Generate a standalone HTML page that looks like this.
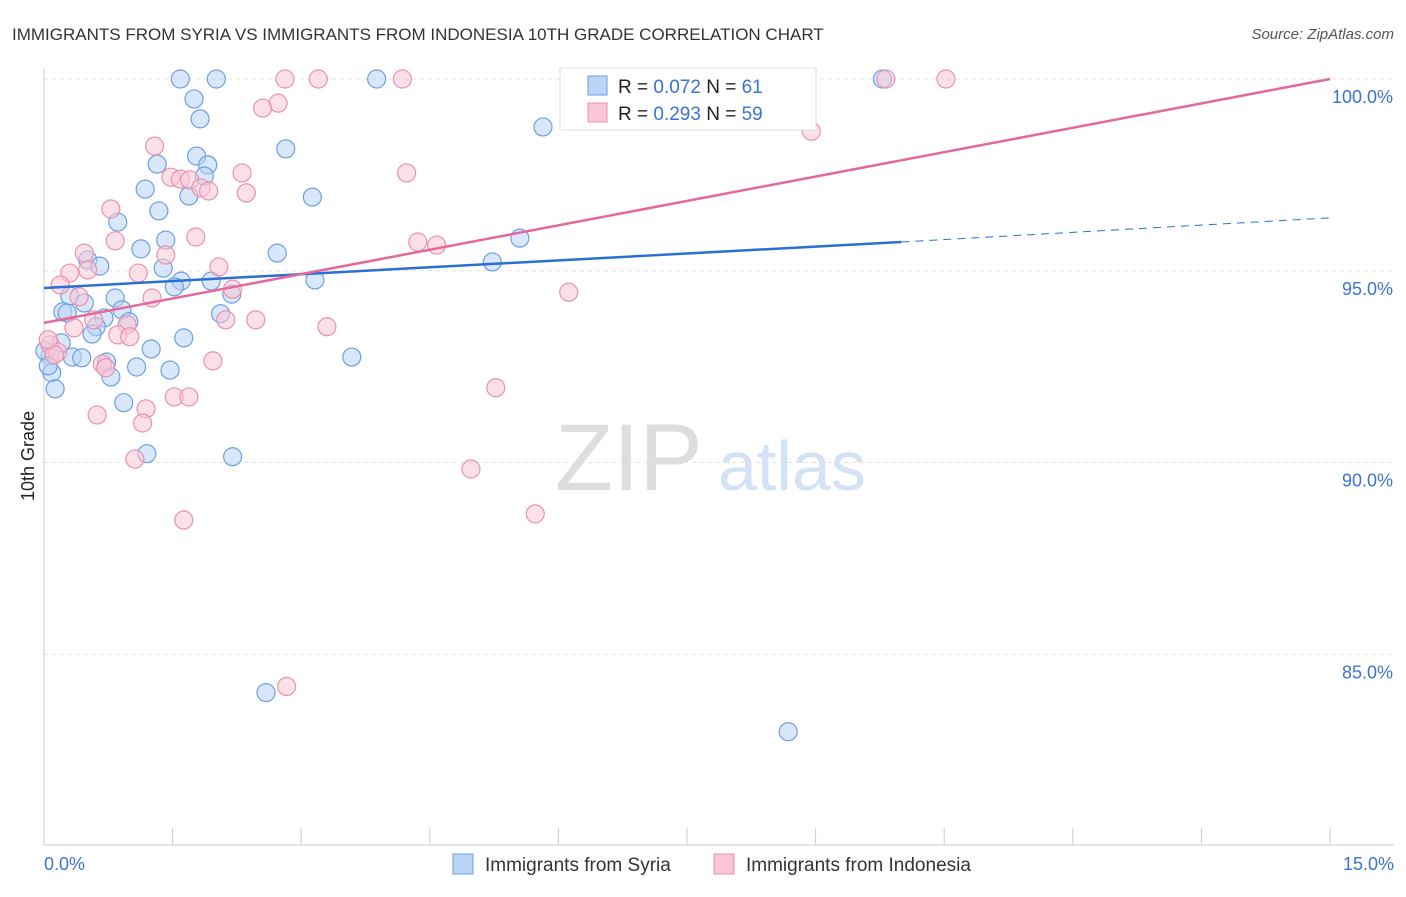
<!DOCTYPE html>
<html><head><meta charset="utf-8"><style>
body{margin:0;background:#fff;font-family:"Liberation Sans",sans-serif}
svg text{font-family:"Liberation Sans",sans-serif}
</style></head><body>
<svg id="c" width="1406" height="892">
<text x="12" y="40" font-size="17" fill="#333">IMMIGRANTS FROM SYRIA VS IMMIGRANTS FROM INDONESIA 10TH GRADE CORRELATION CHART</text>
<text x="1394" y="39" font-size="15" fill="#555" font-style="italic" text-anchor="end">Source: ZipAtlas.com</text>
<text x="34" y="456" font-size="18" fill="#222" transform="rotate(-90 34 456)" text-anchor="middle">10th Grade</text>
<g><text x="555" y="490" font-size="95" fill="#ddd" font-family="Liberation Serif">ZIP</text><text x="718" y="490" font-size="70" fill="#d3e2f4">atlas</text></g>
<g id="grid"></g><g id="pts"></g><g id="lines"></g>
<g>
<rect x="560" y="68" width="256" height="62" fill="#fff" stroke="#ddd"/>
<rect x="588" y="76" width="19" height="19" fill="#b8d4f6" stroke="#6d9fe0"/>
<rect x="588" y="103" width="19" height="19" fill="#f9c6d6" stroke="#e892ae"/>
<text x="618" y="93" font-size="19" fill="#222">R = <tspan fill="#3b73d1">0.072</tspan>   N = <tspan fill="#3b73d1">61</tspan></text>
<text x="618" y="120" font-size="19" fill="#222">R = <tspan fill="#3b73d1">0.293</tspan>   N = <tspan fill="#3b73d1">59</tspan></text>
</g>
<g>
<rect x="453" y="854" width="20" height="20" fill="#b8d4f6" stroke="#6d9fe0"/>
<text x="485" y="871" font-size="19" fill="#333">Immigrants from Syria</text>
<rect x="714" y="854" width="20" height="20" fill="#f9c6d6" stroke="#e892ae"/>
<text x="746" y="871" font-size="19" fill="#333">Immigrants from Indonesia</text>
</g>
<text x="44" y="870" font-size="18" fill="#3b73d1">0.0%</text>
<text x="1394" y="870" font-size="18" fill="#3b73d1" text-anchor="end">15.0%</text>
</svg>
<script>
const yTicks=[100,95,90,85];
const yTickLabels=["100.0%","95.0%","90.0%","85.0%"];
const syriaX=[1.59,2.01,3.88,9.78,1.75,1.82,5.82,2.82,1.78,1.32,1.91,1.87,1.18,1.69,3.13,1.34,0.86,1.42,5.55,1.13,2.72,0.51,0.65,5.23,1.39,1.60,1.95,1.52,3.16,0.30,0.83,0.47,2.19,0.22,0.27,0.91,0.70,0.99,0.61,2.06,0.56,1.63,0.20,1.25,0.33,0.44,3.59,0.73,1.08,1.47,0.78,0.07,0.09,0.13,0.93,1.20,2.20,2.59,8.68,0.01,0.05];
const syriaY=[100,100,100,100,99.48,98.96,98.75,98.18,97.99,97.78,97.76,97.47,97.13,96.95,96.92,96.56,96.27,95.80,95.85,95.57,95.46,95.28,95.12,95.23,95.07,94.73,94.73,94.58,94.76,94.34,94.29,94.16,94.39,93.93,93.90,93.98,93.77,93.67,93.54,93.88,93.35,93.25,93.12,92.96,92.75,92.73,92.75,92.62,92.49,92.41,92.23,92.78,92.34,91.92,91.56,90.23,90.15,84.00,82.98,92.91,92.52];
const indoX=[2.81,3.20,4.18,9.82,10.52,2.73,2.55,8.95,1.29,1.48,1.59,1.70,1.83,1.92,2.31,4.23,2.36,0.78,0.83,1.77,4.36,4.58,0.47,1.42,2.04,0.51,0.30,1.10,0.19,2.20,6.12,1.26,0.41,2.12,2.47,0.58,3.30,0.97,0.35,0.86,1.00,0.07,0.16,0.68,0.72,1.97,1.52,1.69,1.19,5.27,0.62,1.15,1.06,4.98,5.73,1.63,2.83,0.12,0.05];
const indoY=[100,100,100,100,100,99.37,99.24,98.64,98.25,97.44,97.39,97.37,97.16,97.08,97.55,97.55,97.03,96.61,95.78,95.88,95.75,95.67,95.46,95.41,95.10,95.02,94.94,94.94,94.63,94.52,94.44,94.29,94.32,93.72,93.72,93.72,93.54,93.59,93.51,93.33,93.28,93.07,92.88,92.57,92.47,92.65,91.71,91.71,91.40,91.95,91.24,91.03,90.09,89.83,88.66,88.50,84.16,92.81,93.20];
const syriaFit=[[0,94.55],[10,95.75],[15,96.38]];
const indoFit=[[0,93.64],[15,100]];
const sx=v=>44+v/15*1286, sy=v=>79+(100-v)*38.35;
const NS="http://www.w3.org/2000/svg";
function mk(t,a,p){const e=document.createElementNS(NS,t);for(const k in a)e.setAttribute(k,a[k]);p.appendChild(e);return e;}
const g=document.getElementById('grid');
yTicks.forEach((t,i)=>{const l=mk('line',{x1:44,x2:1394,y1:sy(t),y2:sy(t),stroke:'#e2e2e2','stroke-dasharray':'4,4'},g);


const tx=mk('text',{x:1393,y:sy(t)+24,'font-size':18,fill:'#3b73d1','text-anchor':'end'},g);tx.textContent=yTickLabels[i];

});
mk('line',{x1:44,x2:44,y1:68,y2:845,stroke:'#ccc'},g);
mk('line',{x1:44,x2:1394,y1:845,y2:845,stroke:'#ccc'},g);
for(let i=0;i<=10;i++){const l=mk('line',{x1:sx(i*1.5),x2:sx(i*1.5),y1:828,y2:845,stroke:'#ccc'},g);

}
const p=document.getElementById('pts');
function pts(X,Y,f,s,n){X.forEach((x,i)=>{const c=mk('circle',{cx:sx(x),cy:sy(Y[i]),r:9,fill:f,'fill-opacity':0.55,stroke:s,'stroke-width':1.2},p);

});}
pts(syriaX,syriaY,'#b8d4f6','#6d9fe0','syria-point');
pts(indoX,indoY,'#f9c6d6','#e892ae','indonesia-point');
const L=document.getElementById('lines');
let a=mk('line',{x1:sx(syriaFit[0][0]),y1:sy(syriaFit[0][1]),x2:sx(syriaFit[1][0]),y2:sy(syriaFit[1][1]),stroke:'#2a6fd6','stroke-width':2.5},L);


a=mk('line',{x1:sx(syriaFit[1][0]),y1:sy(syriaFit[1][1]),x2:sx(syriaFit[2][0]),y2:sy(syriaFit[2][1]),stroke:'#2a6fd6','stroke-width':1,'stroke-dasharray':'8,6'},L);


a=mk('line',{x1:sx(indoFit[0][0]),y1:sy(indoFit[0][1]),x2:sx(indoFit[1][0]),y2:sy(indoFit[1][1]),stroke:'#e4689a','stroke-width':2.5},L);


</script>
</body></html>
